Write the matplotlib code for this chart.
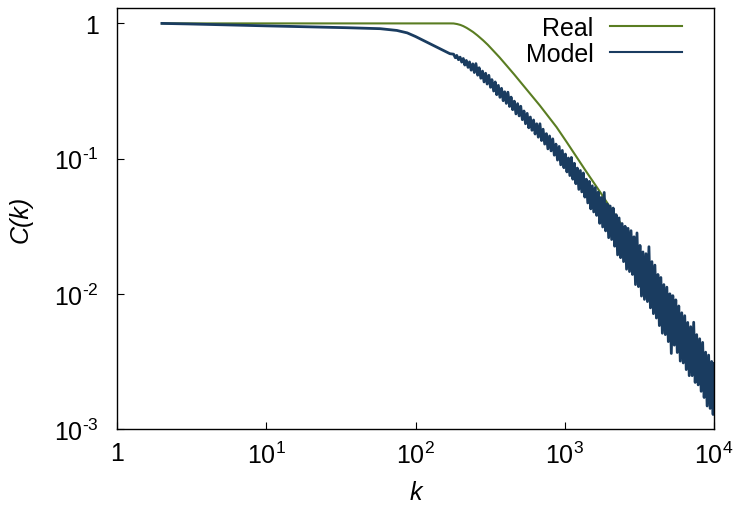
import matplotlib
matplotlib.use('Agg')
import matplotlib.pyplot as plt
from matplotlib.ticker import NullLocator

# "Real" curve
k_real = [2, 170, 180, 190, 200, 209, 220, 230, 243, 260, 284, 305, 331, 365,
          407, 460, 527, 681, 881, 1028, 1400, 1718, 2335, 3183, 5000, 7000,
          10000]
c_real = [1.0, 1.0, 0.999, 0.989, 0.974, 0.955, 0.927, 0.899, 0.864, 0.815,
          0.749, 0.695, 0.631, 0.562, 0.489, 0.4175, 0.348, 0.247, 0.171,
          0.133, 0.0795, 0.057, 0.034, 0.0198, 0.0088, 0.0050, 0.0027]

# "Model" curve (smooth head, then the noisy tail)
k_model = [2, 3, 5, 10, 20, 35, 58, 75, 88, 100, 115, 130, 145, 160, 170,
           180, 185, 189, 194, 199, 204, 209, 214, 219, 225,
           230, 236, 242, 248, 254, 261, 267, 274, 281, 288,
           295, 302, 310, 318, 325, 334, 342, 350, 359, 368,
           377, 387, 396, 406, 416, 427, 437, 448, 459, 471,
           483, 495, 507, 520, 533, 546, 560, 574, 588, 603,
           618, 633, 649, 665, 682, 699, 716, 734, 753, 771,
           791, 810, 831, 851, 873, 894, 917, 940, 963, 987,
           1010, 1034, 1058, 1082, 1108, 1133, 1160, 1187, 1214, 1243,
           1272, 1301, 1332, 1363, 1394, 1427, 1460, 1494, 1529, 1564,
           1601, 1638, 1676, 1715, 1755, 1796, 1838, 1880, 1924, 1969,
           2015, 2062, 2110, 2159, 2209, 2260, 2313, 2367, 2422, 2478,
           2536, 2595, 2655, 2717, 2780, 2845, 2911, 2979, 3048, 3119,
           3192, 3266, 3342, 3420, 3500, 3581, 3665, 3750, 3837, 3927,
           4018, 4112, 4207, 4305, 4406, 4508, 4613, 4721, 4831, 4943,
           5058, 5176, 5297, 5420, 5546, 5675, 5807, 5943, 6081, 6223,
           6367, 6516, 6667, 6823, 6981, 7144, 7310, 7481, 7655, 7834,
           8016, 8203, 8394, 8590, 8790, 8995, 9204, 9419, 9638, 9863,
           10000]
c_model = [1.0, 0.991, 0.977, 0.959, 0.942, 0.929, 0.914, 0.887, 0.851, 0.800,
           0.741, 0.692, 0.652, 0.617, 0.597,
           0.592, 0.557, 0.580, 0.539, 0.563, 0.517, 0.550, 0.492, 0.532, 0.473,
           0.519, 0.451, 0.502, 0.433, 0.504, 0.414, 0.470, 0.393, 0.444, 0.369,
           0.428, 0.356, 0.413, 0.337, 0.384, 0.316, 0.369, 0.297, 0.348, 0.284,
           0.331, 0.268, 0.312, 0.256, 0.310, 0.243, 0.285, 0.230, 0.266, 0.214,
           0.255, 0.207, 0.244, 0.194, 0.225, 0.181, 0.216, 0.169, 0.203, 0.162,
           0.193, 0.152, 0.181, 0.144, 0.181, 0.136, 0.165, 0.128, 0.153, 0.118,
           0.147, 0.114, 0.140, 0.106, 0.128, 0.0975, 0.123, 0.0900, 0.115, 0.0856,
           0.108, 0.0797, 0.101, 0.0749, 0.102, 0.0704, 0.0923, 0.0652, 0.0851, 0.0592,
           0.0817, 0.0567, 0.0783, 0.0519, 0.0704, 0.0470, 0.0679, 0.0425, 0.0629, 0.0403,
           0.0611, 0.0380, 0.0566, 0.0332, 0.0516, 0.0312, 0.0562, 0.0292, 0.0462, 0.0260,
           0.0446, 0.0252, 0.0431, 0.0225, 0.0385, 0.0194, 0.0364, 0.0185, 0.0331, 0.0173,
           0.0316, 0.0152, 0.0305, 0.0146, 0.0293, 0.0139, 0.0264, 0.0117, 0.0282, 0.0113,
           0.0228, 0.00962, 0.0204, 0.00909, 0.0198, 0.00876, 0.0223, 0.00787, 0.0173, 0.00713,
           0.0163, 0.00662, 0.0139, 0.00582, 0.0132, 0.00511, 0.0117, 0.00499, 0.0112, 0.00443,
           0.0100, 0.00362, 0.00969, 0.00417, 0.00902, 0.00368, 0.00813, 0.00318, 0.00724, 0.00308,
           0.00689, 0.00275, 0.00614, 0.00248, 0.00571, 0.00248, 0.00616, 0.00221, 0.00499, 0.00212,
           0.00465, 0.00190, 0.00437, 0.00171, 0.00370, 0.00148, 0.00352, 0.00142, 0.00316, 0.00128,
           0.00306]

x_ticks = [1, 10, 100, 1000, 10000]
x_labels = ['1', r'$10^{1}$', r'$10^{2}$', r'$10^{3}$', r'$10^{4}$']
y_ticks = [1e-3, 1e-2, 1e-1, 1]
y_labels = [r'$10^{\text{-}3}$', r'$10^{\text{-}2}$', r'$10^{\text{-}1}$', '1']

green = '#5a7d22'
blue = '#1a3c60'

plt.rcParams['font.family'] = ['Liberation Sans', 'DejaVu Sans']
plt.rcParams['mathtext.fontset'] = 'custom'
plt.rcParams['mathtext.rm'] = 'Liberation Sans'
plt.rcParams['mathtext.it'] = 'Liberation Sans:italic'

fig = plt.figure(figsize=(7.36, 5.06), dpi=100)
ax = fig.add_axes([117/736, 76/506, 597/736, 421/506])

l_real, = ax.plot(k_real, c_real, color=green, lw=1.5)
l_model, = ax.plot(k_model, c_model, color=blue, lw=2.0)

ax.set_xscale('log')
ax.set_yscale('log')
ax.set_xlim(1, 1e4)
ax.set_ylim(1e-3, 1.3)
ax.set_xticks(x_ticks, x_labels)
ax.set_yticks(y_ticks, y_labels)
ax.xaxis.set_minor_locator(NullLocator())
ax.yaxis.set_minor_locator(NullLocator())
ax.tick_params(direction='in', length=5, width=0.8, labelsize=18,
               top=False, right=False)
ax.tick_params(axis='x', pad=9)
ax.tick_params(axis='y', pad=13)
for s in ax.spines.values():
    s.set_linewidth(1.0)

ax.set_xlabel('k', fontsize=18, fontstyle='italic')
ax.set_ylabel('C(k)', fontsize=18, fontstyle='italic')
ax.xaxis.set_label_coords(0.5, -0.121)
ax.yaxis.set_label_coords(-0.141, 0.5)

# two one-entry legends so the texts end at the same x
anchor_x = 0.959
leg1 = ax.legend([l_real], ['Real'], loc='upper right', frameon=False,
                 markerfirst=False, fontsize=18, handlelength=2.9,
                 handletextpad=0.64, borderpad=0.3, borderaxespad=0,
                 bbox_to_anchor=(anchor_x, 1.0))
ax.add_artist(leg1)
leg2 = ax.legend([l_model], ['Model'], loc='upper right', frameon=False,
                 markerfirst=False, fontsize=18, handlelength=2.9,
                 handletextpad=0.64, borderpad=0.3, borderaxespad=0,
                 bbox_to_anchor=(anchor_x, 1.0 - 26/421))
for lg in (leg1, leg2):
    for h in lg.get_lines():
        h.set_linewidth(1.5)

fig.savefig('out.png', dpi=100)
